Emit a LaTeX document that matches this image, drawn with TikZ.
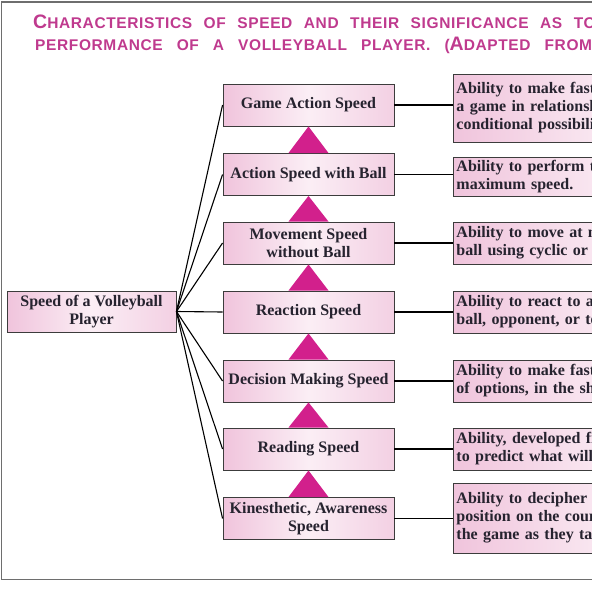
\documentclass[tikz,border=0pt]{standalone}
\usepackage{fontspec}
\setmainfont{Liberation Serif}
\newfontfamily\titlefont[LetterSpace=4]{Liberation Sans}
\usetikzlibrary{positioning,calc}
\definecolor{ink}{HTML}{26232F}
\definecolor{edge}{HTML}{3C3C3C}
\definecolor{frame}{HTML}{6E6E6E}
\definecolor{rose}{HTML}{F0C4DC}
\definecolor{blush}{HTML}{FBEEF5}
\definecolor{tric}{HTML}{D2208C}
\definecolor{titlec}{HTML}{BF3A8E}
\newcommand{\bigc}[1]{{\fontsize{19.5}{18}\selectfont #1}}
\newcommand{\titlestyle}{\titlefont\bfseries\fontsize{15.5}{17}\selectfont\spaceskip 12pt\relax}
\tikzset{
  box/.style={draw=edge, line width=0.9pt, left color=rose, right color=rose!80, middle color=blush, text=ink, font=\fontsize{16}{18}\selectfont\bfseries, align=center, inner sep=2pt},
  speed/.style={box, minimum width=171pt, minimum height=42pt},
  info/.style={box, align=left, text width=340pt, anchor=west, inner sep=3pt, minimum height=42pt},
  link/.style={line width=1.1pt, draw=black},
  tri/.style={fill=tric},
  frm/.style={draw=frame, line width=1.6pt},
  title/.style={font=\titlestyle, text=titlec, anchor=base west, inner sep=0pt},
}
\begin{document}
\begin{tikzpicture}[x=1pt, y=-1pt]
  \useasboundingbox (0,0) rectangle (592,592);
  \clip (0,0) rectangle (592,592);
  \draw[frm] (1.5,2) rectangle (640,579.5);
  % title
  \node[title] (t1) at (33,28) {\spaceskip 11.5pt\relax\bigc{C}HARACTERISTICS OF SPEED AND THEIR SIGNIFICANCE AS TO THE};
  \node[title] (t2) at (35,50) {\spaceskip 14pt\relax PERFORMANCE OF A VOLLEYBALL PLAYER. (\bigc{A}DAPTED FROM};
  % speed types
  \node[speed, minimum width=169pt, minimum height=41pt] (p) at (91.5,311.5) {Speed of a Volleyball\\Player};
  \node[speed] (m1) at (308.5,105) {Game Action Speed};
  \node[speed] (m2) at (308.5,174.5) {Action Speed with Ball};
  \node[speed] (m3) at (308.5,243) {Movement Speed\\without Ball};
  \node[speed] (m4) at (308.5,312) {Reaction Speed};
  \node[speed] (m5) at (308.5,381) {Decision Making Speed};
  \node[speed] (m6) at (308.5,449) {Reading Speed};
  \node[speed] (m7) at (308.5,518.5) {Kinesthetic, Awareness\\Speed};
  % descriptions
  \node[info, minimum height=68pt] (r1) at (453,108) {Ability to make fast decisions during\\a game in relationship to the\\conditional possibilities.};
  \node[info, minimum height=39pt] (r2) at (453,176.5) {Ability to perform technique at\\maximum speed.};
  \node[info] (r3) at (453,243) {Ability to move at maximum speed without the\\ball using cyclic or acyclic movements.};
  \node[info] (r4) at (453,312) {Ability to react to a stimulus such as the\\ball, opponent, or teammate.};
  \node[info] (r5) at (453,381) {Ability to make fast decisions from a number\\of options, in the shortest time.};
  \node[info] (r6) at (453,449) {Ability, developed from experience,\\to predict what will happen.};
  \node[info, minimum height=70pt] (r7) at (453,518) {Ability to decipher the player's\\position on the court and\\the game as they take place.};
  \foreach \n in {1,...,7} {
    \draw[link] (p.east) -- (m\n.west);
    \draw[link] (m\n.east) -- (m\n.east -| r\n.west);
  }
  \foreach \a/\b in {m1/m2, m2/m3, m3/m4, m4/m5, m5/m6, m6/m7}
    \fill[tri] ($(\b.north)+(-20,0)$) -- (\a.south) -- ($(\b.north)+(20,0)$) -- cycle;
\end{tikzpicture}
\end{document}
